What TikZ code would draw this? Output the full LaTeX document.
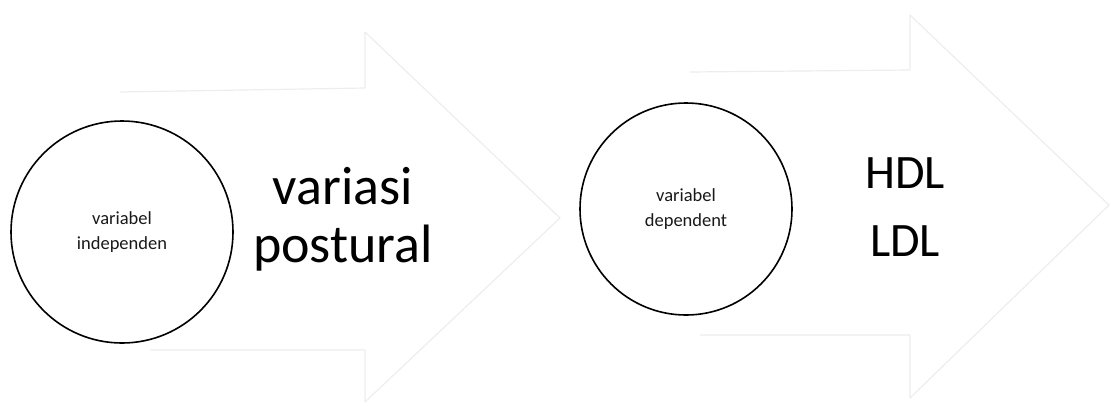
\documentclass[tikz,border=0pt]{standalone}
\usepackage{fontspec}
\setmainfont{Carlito}
\begin{document}
\begin{tikzpicture}[x=1pt,y=-1pt,
  faint/.style={draw=black!7,line width=1.2pt,line join=round},
  var/.style={circle,draw=black,fill=white,line width=1.6pt,minimum size=#1,inner sep=0pt,align=center,font=\fontsize{18.5}{25}\selectfont,text=black!90},
  big/.style={align=center,text=black,font=\fontsize{#1}{#1}\selectfont,inner sep=0pt}]
\useasboundingbox (0,0) rectangle (1111,405);
% faint background block arrows
\draw[faint] (120,92) -- (365,88) -- (365,32) -- (560,218) -- (365,402) -- (365,350) -- (150,350);
\draw[faint] (690,72) -- (910,70) -- (910,15) -- (1109,205) -- (910,398) -- (910,335) -- (700,335);
% circles
\node[var=222pt] (ind) at (122,232) {variabel\\independen};
\node[var=212pt] (dep) at (686,209) {variabel\\dependent};
% labels
\node[big=54] (vp) at (343,219) {variasi\\[4pt]postural};
\node[big=48] (hdl) at (905,173) {HDL};
\node[big=48] (ldl) at (905,241) {LDL};
\end{tikzpicture}
\end{document}
